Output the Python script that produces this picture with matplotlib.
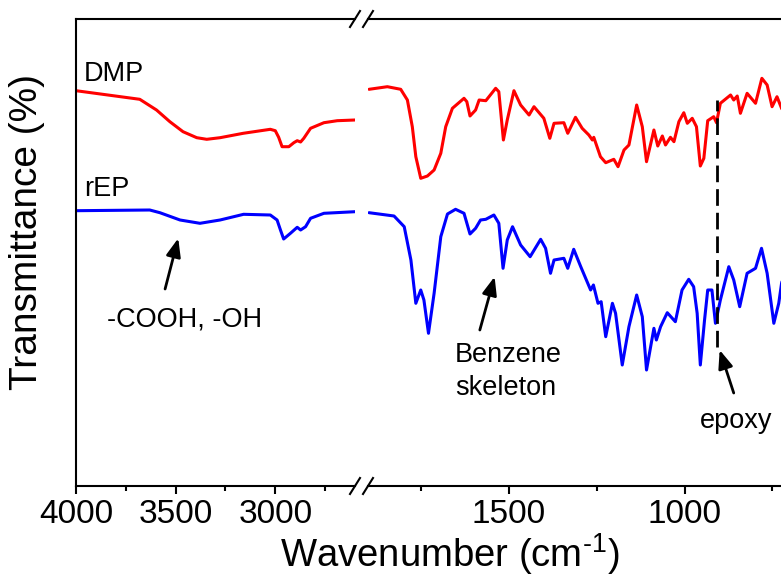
import matplotlib
matplotlib.use("Agg")
import matplotlib.pyplot as plt
from matplotlib.lines import Line2D

plt.rcParams['font.family'] = ['Liberation Sans', 'DejaVu Sans']
plt.rcParams['mathtext.fontset'] = 'custom'
plt.rcParams['mathtext.rm'] = 'Liberation Sans'
plt.rcParams['mathtext.it'] = 'Liberation Sans:italic'

# ---------------- data (wavenumber, relative transmittance) ----------------
dmp_hi_wn = [4000, 3680, 3596, 3529, 3463, 3394, 3344, 3277, 3161, 3025, 3000, 2983,
             2966, 2932, 2907, 2890, 2873, 2857, 2823, 2756, 2689, 2600]
dmp_hi_t = [395.3, 386.7, 376, 364.3, 354.3, 348.3, 346.7, 348.3, 352.7, 356.7, 355.3, 348.7,
            339.3, 339.3, 343.3, 345.3, 344, 347.7, 357.7, 363.3, 365.3, 366]

rep_hi_wn = [4000, 3630, 3579, 3478, 3378, 3277, 3159, 3025, 2991, 2974, 2958, 2924,
             2890, 2873, 2848, 2823, 2756, 2600]
rep_hi_t = [275.3, 276, 273.3, 266, 262.7, 266, 271.7, 271, 266, 256, 247, 252.7,
            258.7, 256, 259.3, 267.7, 272.7, 274.3]

dmp_lo_wn = [1897, 1845, 1807, 1788, 1774, 1764, 1750, 1731, 1712, 1693, 1679, 1660,
             1627, 1619, 1610, 1594, 1584, 1565, 1537, 1528, 1515, 1504, 1485, 1466,
             1442, 1428, 1400, 1383, 1371, 1343, 1332, 1310, 1291, 1272, 1262, 1258,
             1239, 1224, 1201, 1189, 1172, 1158, 1136, 1120, 1108, 1087, 1076, 1063,
             1054, 1040, 1030, 1016, 1002, 992, 978, 966, 955, 945, 934, 917, 909,
             898, 869, 860, 850, 841, 822, 798, 780, 765, 751, 737, 724, 715]
dmp_lo_t = [396.7, 399.3, 396.7, 386, 359.3, 329.3, 307.7, 310, 316, 332.7, 359.3, 377.7,
            387.7, 384.3, 370, 376, 386, 385.3, 397.7, 394.3, 346, 366, 395.3, 381,
            371, 379.3, 367.7, 347.7, 362.7, 363.3, 352.7, 368.7, 357.7, 351, 346, 348.7,
            329.3, 323.3, 326.7, 319.3, 336, 341, 381, 359.3, 324.3, 356, 340, 350,
            341, 348.7, 344.3, 364.3, 373.3, 362.7, 367.7, 359.3, 320, 327.7, 365.3, 369.3, 363.3,
            382.7, 391, 386, 390, 372.7, 392.7, 382.7, 407.7, 401, 379.3, 389.3, 377.7, 372]

rep_lo_wn = [1897, 1826, 1797, 1778, 1764, 1750, 1741, 1728, 1712, 1693, 1674, 1651,
             1627, 1610, 1594, 1580, 1565, 1542, 1528, 1516, 1504, 1489, 1466, 1439,
             1409, 1395, 1381, 1371, 1343, 1332, 1315, 1295, 1267, 1259, 1246, 1237,
             1224, 1205, 1196, 1177, 1158, 1136, 1120, 1108, 1087, 1080, 1068, 1049,
             1026, 1007, 988, 974, 964, 955, 943, 934, 922, 912, 898, 874, 860, 843,
             822, 798, 781, 765, 746, 732, 724, 715]
rep_lo_t = [273.3, 270, 259.3, 226, 182.7, 196, 186, 152.7, 192.7, 249.3, 272, 276.7,
            272.7, 252, 257.7, 266, 266.7, 271, 262.7, 217.7, 246, 259.3, 241, 229.3,
            246.7, 237.7, 212.7, 226, 227.7, 217.7, 236.7, 219.3, 196, 201, 182.7, 184.3,
            149.3, 182.7, 172.7, 121, 159.3, 191, 169.3, 116, 157.7, 146, 159.3, 173.3,
            164.3, 196, 206.7, 199.3, 172.7, 121, 166, 196, 196, 162.7, 186, 219.3, 206, 179.3,
            212.7, 217.7, 237.7, 212.7, 162.7, 182.7, 202.7, 215]

hi_major = [4000, 3500, 3000]
hi_minor = [3750, 3250, 2750]
lo_major = [1500, 1000]
lo_minor = [1750, 1250, 750]

epoxy_wn = 909
epoxy_span = (139, 386)

RED = '#ff0000'
BLUE = '#0000ff'

# ---------------- layout ----------------
W, H = 781, 576
fig = plt.figure(figsize=(W / 100, H / 100), dpi=100)
bottom = (H - 486) / H
height = (486 - 19) / H
axL = fig.add_axes([76 / W, bottom, (355 - 76) / W, height])
axR = fig.add_axes([368 / W, bottom, (790 - 368) / W, height])

for ax in (axL, axR):
    ax.set_ylim(0, 467)
    ax.tick_params(axis='y', left=False, labelleft=False, right=False)
    ax.tick_params(axis='x', which='major', direction='out', length=5.5, width=1.5,
                   labelsize=24, pad=4)
    ax.tick_params(axis='x', which='minor', direction='out', length=3.5, width=1.5)
    for s in ax.spines.values():
        s.set_linewidth(1.5)
    ax.spines['right'].set_visible(False)

axR.spines['left'].set_visible(False)

axL.set_xlim(4000, 2600)
axR.set_xlim(1900, 700)
axL.set_xticks(hi_major)
axL.set_xticks(hi_minor, minor=True)
axR.set_xticks(lo_major)
axR.set_xticks(lo_minor, minor=True)

lw = 2.2
style = dict(lw=lw, solid_joinstyle='round', solid_capstyle='round')
axL.plot(dmp_hi_wn, dmp_hi_t, color=RED, **style)
axL.plot(rep_hi_wn, rep_hi_t, color=BLUE, **style)
axR.plot(dmp_lo_wn, dmp_lo_t, color=RED, **style)
axR.plot(rep_lo_wn, rep_lo_t, color=BLUE, **style)

axR.plot([epoxy_wn, epoxy_wn], epoxy_span, color='k', lw=2, linestyle=(0, (6, 2.5)))

fs = 19.5
axL.text(3960, 405.3, 'DMP', fontsize=fs, va='baseline', ha='left')
axL.text(3960, 290.3, 'rEP', fontsize=fs, va='baseline', ha='left')

arrow = dict(arrowstyle='-|>,head_length=0.55,head_width=0.22', color='k', lw=2,
             shrinkA=0, shrinkB=0, mutation_scale=20)
axL.annotate('', xy=(3487, 247.7), xytext=(3553, 197), arrowprops=arrow)
axL.text(3453, 159.3, '-COOH, -OH', fontsize=fs, ha='center', va='baseline')

axR.annotate('', xy=(1540, 209.3), xytext=(1582, 156), arrowprops=arrow)
axR.text(1653, 124.3, 'Benzene', fontsize=fs, ha='left', va='baseline')
axR.text(1653, 91, 'skeleton', fontsize=fs, ha='left', va='baseline')

axR.annotate('', xy=(900, 136), xytext=(860, 93), arrowprops=arrow)
axR.text(854.5, 58, 'epoxy', fontsize=fs, ha='center', va='baseline')

# axis labels
fig.text(450 / W, (H - 566.7) / H, r'Wavenumber (cm$^{\text{-}1}$)', fontsize=27.5,
         ha='center', va='baseline')
fig.text(27 / W, (H - 390) / H, 'Transmittance (%)', fontsize=28, rotation=90,
         ha='center', va='bottom')

# break marks
for yp in (19, 486):
    for x0 in (350, 363):
        fig.add_artist(Line2D([x0 / W, (x0 + 10) / W], [(H - yp - 8) / H, (H - yp + 8) / H],
                              transform=fig.transFigure, color='k', lw=1.5))

fig.savefig('out.png', dpi=100)
